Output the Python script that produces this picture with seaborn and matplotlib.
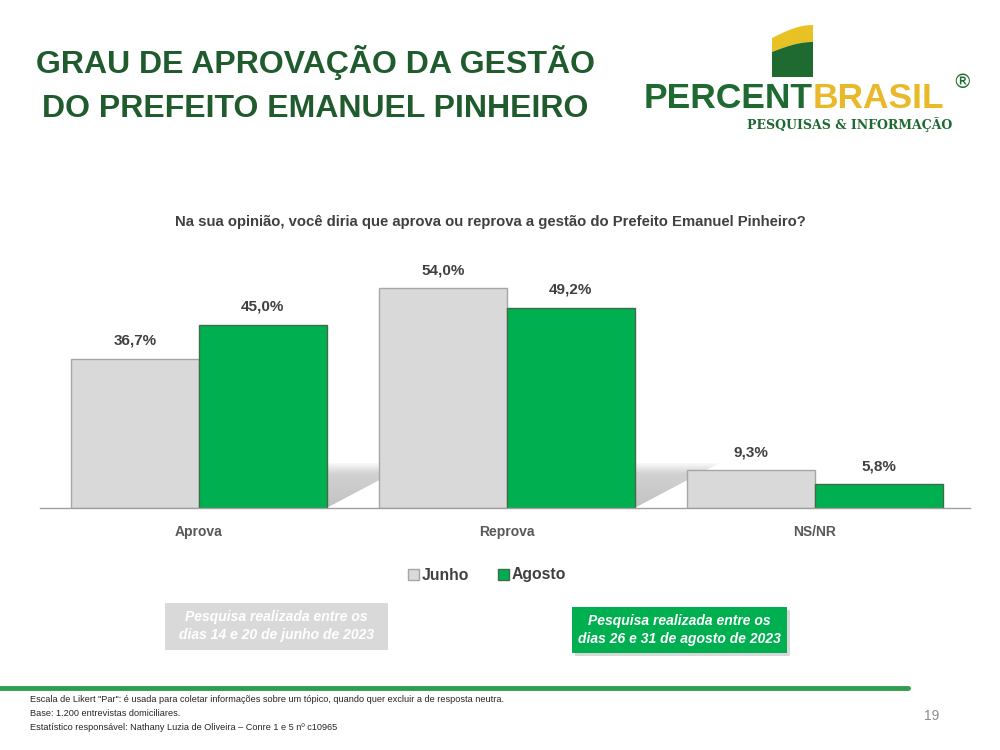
import numpy as np
import pandas as pd
import matplotlib
matplotlib.use('Agg')
import matplotlib.pyplot as plt
import seaborn as sns
from matplotlib.patches import Patch, Rectangle, Polygon
from matplotlib.lines import Line2D
from matplotlib.colors import LinearSegmentedColormap

# Data
categories = ['Aprova', 'Reprova', 'NS/NR']
periods = ['Junho', 'Agosto']
junho = [36.7, 54.0, 9.3]
agosto = [45.0, 49.2, 5.8]

df = pd.DataFrame({
    'cat': categories * 2,
    'period': ['Junho'] * 3 + ['Agosto'] * 3,
    'value': junho + agosto,
})

GRAY = '#d9d9d9'
GREEN = '#00b050'
DARK_GREEN = '#1f5b2d'

sns.set_theme(style='white')
plt.rcParams['font.family'] = ['Liberation Sans', 'DejaVu Sans']

fig = plt.figure(figsize=(10, 7.5), dpi=100)
ax = fig.add_axes([0.04, 0.3227, 0.93, 0.3256])

sns.barplot(data=df, x='cat', y='value', hue='period', order=categories,
            hue_order=periods, palette=[GRAY, GREEN], width=0.83, gap=0,
            ax=ax, legend=False, saturation=1, zorder=2)

edges = ['#a6a6a6', '#3f6b48']
for cont, ec, vals in zip(ax.containers, edges, [junho, agosto]):
    for bar in cont:
        bar.set_edgecolor(ec)
        bar.set_linewidth(1)
    labels = [f"{v:.1f}".replace('.', ',') + '%' for v in vals]
    ax.bar_label(cont, labels=labels, padding=8, fontsize=11,
                 fontweight='bold', color='#404040')

# soft perspective shadow to the right of the tall groups
shade = LinearSegmentedColormap.from_list('shade', ['#ffffff', '#c2c2c2'])
grad = np.r_[np.linspace(1, 0.75, 48), np.linspace(0.75, 0.1, 16)].reshape(-1, 1)
for bar in ax.containers[1]:
    if bar.get_height() < 11:
        continue
    xr = bar.get_x() + bar.get_width()
    h = 11
    w = 0.3
    im = ax.imshow(grad, cmap=shade, vmin=0, vmax=1, extent=[xr, xr + w, 0, h],
                   origin='lower', aspect='auto', zorder=0.5, interpolation='bilinear')
    im.set_clip_path(Polygon([(xr, 0), (xr, h), (xr + w, h), (xr + h / 40, h)],
                             closed=True, transform=ax.transData))
    ax.add_patch(Polygon([(xr, 0), (xr + h / 40, h), (xr + w, h), (xr + w, 0)],
                         closed=True, facecolor='white', edgecolor='none', zorder=0.6))

ax.set_xlim(-0.516, 2.503)
ax.set_ylim(0, 60)
ax.set_xlabel('')
ax.set_ylabel('')
ax.set_yticks([])
ax.tick_params(axis='x', length=0, pad=12, labelsize=10, labelcolor='#595959')
for lab in ax.get_xticklabels():
    lab.set_fontweight('bold')
for s in ['top', 'right', 'left']:
    ax.spines[s].set_visible(False)
ax.spines['bottom'].set_color('#a0a0a0')
ax.spines['bottom'].set_linewidth(1)
ax.spines['bottom'].set_zorder(3)

# legend
handles = [Patch(facecolor=GRAY, edgecolor='#a6a6a6', label='Junho'),
           Patch(facecolor=GREEN, edgecolor='#3f6b48', label='Agosto')]
leg = ax.legend(handles=handles, loc='center', bbox_to_anchor=(0.487, 1 - 575 / 750),
                bbox_transform=fig.transFigure, frameon=False, ncol=2,
                handlelength=0.7, handleheight=0.7, handletextpad=0.2,
                columnspacing=1.8, prop={'size': 11.3, 'weight': 'bold'})
for t in leg.get_texts():
    t.set_color('#404040')

# title
fig.text(0.315, 1 - 63 / 750, 'GRAU DE APROVAÇÃO DA GESTÃO', ha='center', va='center',
         fontsize=23, fontweight='bold', color=DARK_GREEN)
fig.text(0.315, 1 - 109 / 750, 'DO PREFEITO EMANUEL PINHEIRO', ha='center', va='center',
         fontsize=23, fontweight='bold', color=DARK_GREEN)

# question
fig.text(0.49, 1 - 222 / 750,
         'Na sua opinião, você diria que aprova ou reprova a gestão do Prefeito Emanuel Pinheiro?',
         ha='center', va='center', fontsize=10.7, fontweight='bold', color='#404040')

# logo
t = np.linspace(0, 1, 30)
xs = 0.772 + 0.041 * t
top = 1 - (38 - 13 * np.sin(t * np.pi / 2)) / 750
mid = 1 - (52 - 10 * np.sin(t * np.pi / 2)) / 750
bot = np.full_like(t, 1 - 77 / 750)
fig.patches.append(Polygon(np.column_stack([np.r_[xs, xs[::-1]], np.r_[top, mid[::-1]]]),
                           closed=True, facecolor='#e8c224', edgecolor='none',
                           transform=fig.transFigure))
fig.patches.append(Polygon(np.column_stack([np.r_[xs, xs[::-1]], np.r_[mid, bot[::-1]]]),
                           closed=True, facecolor='#1e6a30', edgecolor='none',
                           transform=fig.transFigure))
fig.text(0.813, 1 - 98 / 750, 'PERCENT', ha='right', va='center', fontsize=25.5,
         fontweight='bold', color='#1e6a30')
fig.text(0.813, 1 - 98 / 750, 'BRASIL', ha='left', va='center', fontsize=25.5,
         fontweight='bold', color='#eab92a')
fig.text(0.962, 1 - 82 / 750, '®', ha='center', va='center', fontsize=14,
         color='#1e6a30', family=['DejaVu Sans'])
fig.text(0.850, 1 - 125 / 750, 'PESQUISAS & INFORMAÇÃO', ha='center', va='center',
         fontsize=9, fontweight='bold', color='#1e6a30', family=['DejaVu Serif'])

# survey boxes
fig.patches.append(Rectangle((0.165, 1 - 650 / 750), 0.223, 47 / 750, facecolor='#d9d9d9',
                             edgecolor='none', transform=fig.transFigure))
fig.text(0.2765, 1 - 626 / 750, 'Pesquisa realizada entre os\ndias 14 e 20 de junho de 2023',
         ha='center', va='center', fontsize=10, fontweight='bold', style='italic',
         color='white', linespacing=1.35)
fig.patches.append(Rectangle((0.575, 1 - 656 / 750), 0.215, 46 / 750, facecolor='#bfbfbf',
                             edgecolor='none', alpha=0.6, transform=fig.transFigure))
fig.patches.append(Rectangle((0.572, 1 - 653 / 750), 0.215, 46 / 750, facecolor=GREEN,
                             edgecolor='none', transform=fig.transFigure))
fig.text(0.6795, 1 - 630 / 750, 'Pesquisa realizada entre os\ndias 26 e 31 de agosto de 2023',
         ha='center', va='center', fontsize=10, fontweight='bold', style='italic',
         color='white', linespacing=1.35)

# footer
fig.lines.append(Line2D([0, 0.908], [1 - 688 / 750] * 2, color='#2f9e4f', linewidth=3.5,
                        transform=fig.transFigure))
footer = ['Escala de Likert "Par": é usada para coletar informações sobre um tópico, quando quer excluir a de resposta neutra.',
          'Base: 1.200 entrevistas domiciliares.',
          'Estatístico responsável: Nathany Luzia de Oliveira – Conre 1 e 5 nº c10965']
for i, line in enumerate(footer):
    fig.text(0.03, 1 - (700 + 14 * i) / 750, line, ha='left', va='center', fontsize=6.6,
             color='#262626')
fig.text(0.932, 1 - 716 / 750, '19', ha='center', va='center', fontsize=10, color='#8c8c8c')

fig.savefig('out.png', dpi=100)
